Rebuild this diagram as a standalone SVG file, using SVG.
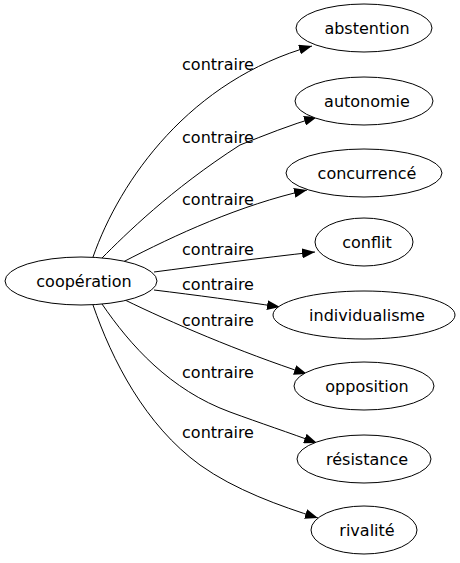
<svg xmlns="http://www.w3.org/2000/svg" width="460" height="563" viewBox="0 0 460 563">
<defs>
<style>
.n ellipse{fill:#fff;stroke:#000;stroke-width:1}
text{font-family:"DejaVu Sans",sans-serif;font-size:16px;fill:#000;text-anchor:middle}
.e path{fill:none;stroke:#000;stroke-width:1;marker-end:url(#ah)}
</style>
<marker id="ah" markerUnits="userSpaceOnUse" markerWidth="14" markerHeight="10" refX="13" refY="5" orient="auto">
<path d="M0,0 L13,5 L0,10 z" fill="#000"/>
</marker>
</defs>
<rect width="460" height="563" fill="#fff"/>
<g id="edges" class="e">
<path d="M93,257 C120,180 190,80 312,46"/>
<path d="M102,258 C125,235 170,190 240,145 C265,135 290,125 317,117"/>
<path d="M123,262 C175,235 240,205 307,190"/>
<path d="M154,272 C200,266 260,258 315,252"/>
<path d="M154,290 C195,295 240,301 280,307"/>
<path d="M125,300 C170,322 240,352 307,374"/>
<path d="M102,304 C130,345 170,390 230,412 C260,423 290,433 317,443"/>
<path d="M93,305 C112,360 145,425 200,465 C235,490 280,506 318,518"/>
<text x="218" y="70">contraire</text>
<text x="218" y="143">contraire</text>
<text x="218" y="205">contraire</text>
<text x="218" y="255">contraire</text>
<text x="218" y="290">contraire</text>
<text x="218" y="326">contraire</text>
<text x="218" y="378">contraire</text>
<text x="218" y="438">contraire</text>
</g>
<g id="cooperation" class="n"><ellipse cx="81" cy="281" rx="76" ry="24"/><text x="84" y="287">coopération</text></g>
<g id="abstention" class="n"><ellipse cx="364" cy="28" rx="68" ry="24"/><text x="367" y="34">abstention</text></g>
<g id="autonomie" class="n"><ellipse cx="364" cy="101" rx="69" ry="24"/><text x="367" y="107">autonomie</text></g>
<g id="concurrence" class="n"><ellipse cx="364" cy="173" rx="78" ry="24"/><text x="367" y="179">concurrencé</text></g>
<g id="conflit" class="n"><ellipse cx="364" cy="242" rx="49" ry="24"/><text x="367" y="248">conflit</text></g>
<g id="individualisme" class="n"><ellipse cx="364" cy="315" rx="91" ry="24"/><text x="367" y="321">individualisme</text></g>
<g id="opposition" class="n"><ellipse cx="364" cy="386" rx="70" ry="24"/><text x="367" y="392">opposition</text></g>
<g id="resistance" class="n"><ellipse cx="364" cy="459" rx="67" ry="24"/><text x="367" y="465">résistance</text></g>
<g id="rivalite" class="n"><ellipse cx="364" cy="530" rx="53" ry="24"/><text x="367" y="536">rivalité</text></g>
</svg>
